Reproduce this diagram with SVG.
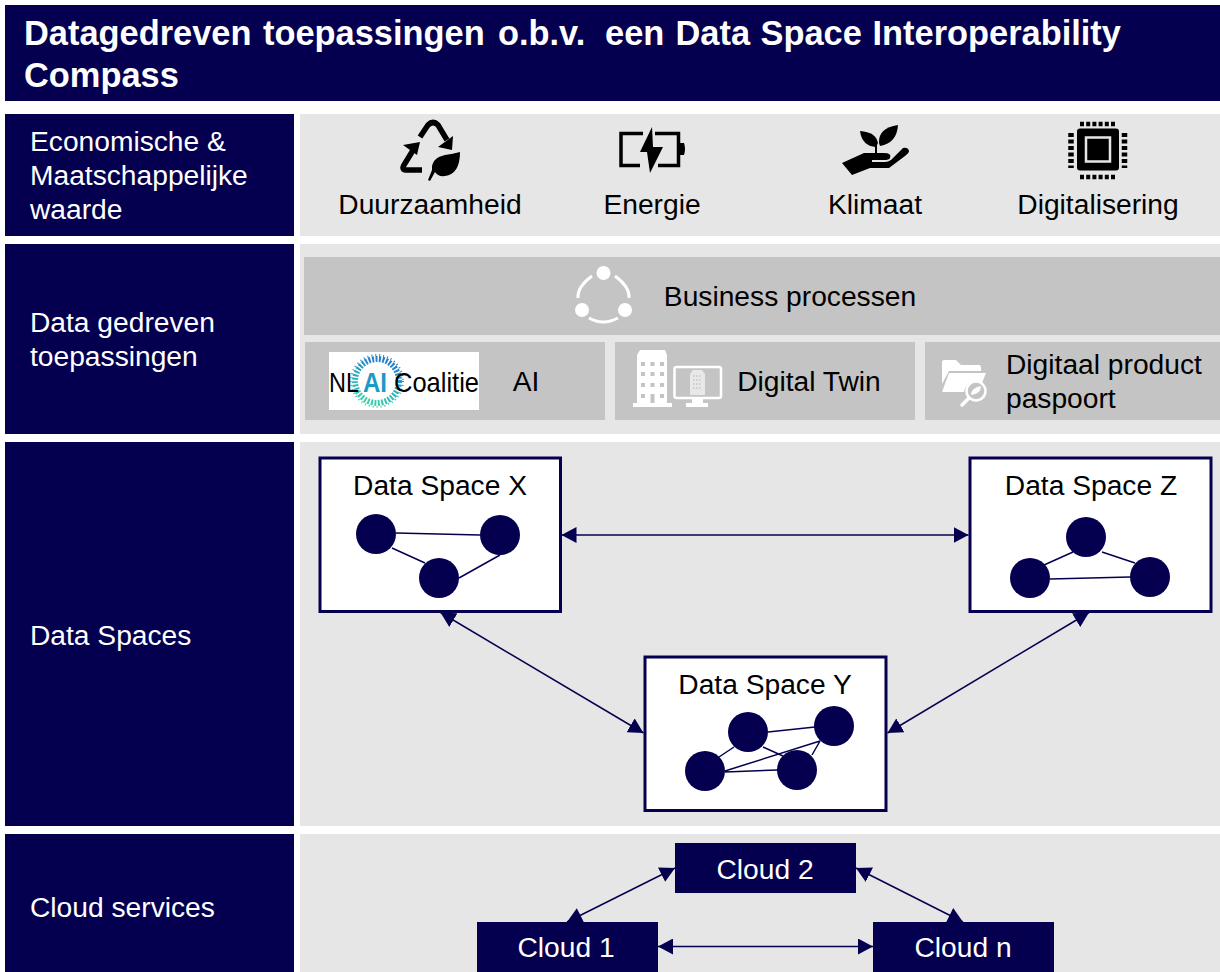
<svg xmlns="http://www.w3.org/2000/svg" width="1220" height="972" viewBox="0 0 1220 972">
<style>
text{font-family:"Liberation Sans",Arial,sans-serif;font-size:28.2px;fill:#000}
.w{fill:#fff}
.t{font-size:34.4px;font-weight:700;white-space:pre}
.navy{fill:#04004f}
.bg{fill:#e6e6e6}
.in{fill:#c4c4c4}
.box{fill:#fff;stroke:#04004f;stroke-width:3}
.c{stroke:#04004f;stroke-width:1.500;fill:none}
.a{stroke:#04004f;stroke-width:1.500;fill:none;marker-start:url(#ah);marker-end:url(#ah)}
.k{fill:#000}
.ks{stroke:#000;fill:none}
.wi{fill:#fff}
.ws{stroke:#fff;fill:none}
.g{fill:#c4c4c4}
.logo{font-size:28px}
</style>
<defs>
<marker id="ah" viewBox="0 0 15 16" refX="15" refY="8" markerWidth="15" markerHeight="16" markerUnits="userSpaceOnUse" orient="auto-start-reverse"><path d="M0 0L15 8L0 16Z" fill="#04004f"/></marker>
<linearGradient id="ring" x1="0.700" y1="0" x2="0.300" y2="1"><stop offset="0" stop-color="#2277cc"/><stop offset="0.500" stop-color="#2aa5c0"/><stop offset="1" stop-color="#3fd0a8"/></linearGradient>
</defs>
<rect width="1220" height="972" fill="#fff"/>
<g id="title"><rect class="navy" x="5" y="5" width="1215" height="96"/>
<text class="w t" y="45"><tspan x="24">Datagedreven </tspan><tspan x="263">toepassingen </tspan><tspan x="498">o.b.v.  </tspan><tspan x="605">een </tspan><tspan x="675.500">Data </tspan><tspan x="760.500">Space </tspan><tspan x="872.500">Interoperability</tspan></text>
<text class="w t" x="24" y="87">Compass</text></g>
<g id="row-waarde"><rect class="navy" x="5" y="114" width="289" height="122"/><rect class="bg" x="300" y="114" width="920" height="122"/>
<text class="w" x="30" y="151">Economische &amp;</text><text class="w" x="30" y="185">Maatschappelijke</text><text class="w" x="30" y="219">waarde</text></g>
<g id="row-toepassingen"><rect class="navy" x="5" y="244" width="289" height="190"/><rect class="bg" x="300" y="244" width="920" height="190"/>
<text class="w" x="30" y="332">Data gedreven</text><text class="w" x="30" y="366">toepassingen</text></g>
<g id="row-dataspaces"><rect class="navy" x="5" y="442" width="289" height="384"/><rect class="bg" x="300" y="442" width="920" height="384"/>
<text class="w" x="30" y="645">Data Spaces</text></g>
<g id="row-cloud"><rect class="navy" x="5" y="834" width="289" height="138"/><rect class="bg" x="300" y="834" width="920" height="138"/>
<text class="w" x="30" y="917">Cloud services</text></g>

<g id="duurzaamheid">
<path class="ks" stroke-width="5.500" d="M420 137L428 125Q433 120 438 125L447 140"/>
<path class="k" d="M438 147L453 136L452 150Z"/>
<path class="ks" stroke-width="5.500" d="M415 147L404 165Q401 170 407 170H422"/>
<path class="k" d="M403 145L420 142L417 155Z"/>
<path class="k" d="M460 152Q460 174 445 176Q438 177 435 172L430 181L428 180L432 170Q431 158 445 155Q453 154 460 152Z"/>
<text x="430" y="214" text-anchor="middle">Duurzaamheid</text></g>
<g id="energie">
<path class="ks" stroke-width="3.500" d="M643 133.500H621V165.500H640M655 133.500H678.500V165.500H658"/>
<path class="k" d="M680 143H684Q686 149 684 155H680Z"/>
<path class="k" d="M652 127L640 152H647L650 173L663 147H653Z"/>
<text x="652" y="214" text-anchor="middle">Energie</text></g>
<g id="klimaat">
<path class="k" d="M842 163L864 153H884Q892 153 890 158Q889 160 884 160H872V162H885Q888 162 891 160L903 148Q908 147 909 151Q909 153 905 156L889 168H870L852 175Z"/>
<path class="k" d="M876 147Q862 146 860 131Q876 132 878 143Z"/>
<path class="k" d="M879 143Q878 128 898 125Q897 143 880 146Z"/>
<path class="ks" stroke-width="2" d="M876 142L876 153"/>
<text x="875" y="214" text-anchor="middle">Klimaat</text></g>
<g id="digitalisering">
<rect class="k" x="1077" y="128.500" width="42" height="42" rx="3"/>
<rect x="1086" y="137.500" width="24" height="24" fill="none" stroke="#e6e6e6" stroke-width="2.500"/>
<path d="M1080 124H1115M1080 177H1115" stroke="#000" stroke-width="4.500" stroke-dasharray="4 2.200" fill="none"/>
<path d="M1071 133V168M1124.500 133V168" stroke="#000" stroke-width="5.500" stroke-dasharray="4 2.500" fill="none"/>
<text x="1098" y="214" text-anchor="middle">Digitalisering</text></g>

<g id="business"><rect class="in" x="304" y="257" width="916" height="78"/>
<circle class="wi" cx="603.500" cy="273" r="7"/><circle class="wi" cx="582" cy="310" r="7"/><circle class="wi" cx="625" cy="310" r="7"/>
<path class="ws" stroke-width="3" d="M592 276Q577 287 578 298M615 276Q630 287 629 298M589 318Q603 326 618 318"/>
<text x="790" y="306" text-anchor="middle">Business processen</text></g>
<g id="ai"><rect class="in" x="305" y="342" width="300" height="78"/>
<rect class="wi" x="329" y="352" width="150" height="58"/>
<circle cx="377" cy="381" r="22" fill="none" stroke="url(#ring)" stroke-width="6" stroke-dasharray="2 1.500"/>
<circle cx="377" cy="381" r="26" fill="none" stroke="url(#ring)" stroke-width="2" stroke-dasharray="1 3"/>
<text class="logo" x="329" y="392" textLength="30" lengthAdjust="spacingAndGlyphs">NL</text>
<text class="logo" x="363" y="392" style="font-weight:700;fill:#1b9ac4" textLength="24" lengthAdjust="spacingAndGlyphs">AI</text>
<text class="logo" x="394" y="392" textLength="85" lengthAdjust="spacingAndGlyphs">Coalitie</text>
<text x="526" y="391" text-anchor="middle">AI</text></g>
<g id="digital-twin"><rect class="in" x="615" y="342" width="300" height="78"/>
<path class="wi" d="M637 355L640 350H665L667 355V403H672V407H633V403H637Z"/>
<g class="g"><rect x="641" y="362" width="4" height="4"/><rect x="650.500" y="362" width="4" height="4"/><rect x="660" y="362" width="4" height="4"/><rect x="641" y="372" width="4" height="4"/><rect x="650.500" y="372" width="4" height="4"/><rect x="660" y="372" width="4" height="4"/><rect x="641" y="383" width="4" height="4"/><rect x="650.500" y="383" width="4" height="4"/><rect x="660" y="383" width="4" height="4"/><rect x="641" y="394" width="4" height="4"/><rect x="650.500" y="394" width="4" height="9"/><rect x="660" y="394" width="4" height="4"/></g>
<rect x="674.500" y="367" width="46.500" height="31" rx="2" fill="none" stroke="#fff" stroke-width="2.500"/>
<path d="M690 395V374L693 370H702L705 374V395Z" fill="#e8e8e8"/>
<path d="M693 376H702M693 380H702M693 384H702M693 388H702" stroke="#c4c4c4" stroke-width="1.500" stroke-dasharray="1.500 1.500"/>
<path class="wi" d="M692 399H703V403H708V407H686V403H692Z"/>
<text x="809" y="391" text-anchor="middle">Digital Twin</text></g>
<g id="paspoort"><rect class="in" x="925" y="342" width="295" height="78"/>
<path class="wi" d="M942 384V362Q942 360 944 360H956L961 365H979Q981 365 981 367V371H949Z"/>
<path class="wi" d="M949 373H986L982 383A12 12 0 0 0 964 392H942Z"/>
<circle cx="976" cy="391" r="9.500" fill="none" stroke="#fff" stroke-width="2.500"/>
<path class="ws" stroke-width="3.500" stroke-linecap="round" d="M969 398L962 405"/>
<path class="wi" d="M971 395Q971 388 981 386Q981 394 971 395Z"/>
<text x="1006" y="374">Digitaal product</text><text x="1006" y="408">paspoort</text></g>

<g id="connectors">
<path class="a" d="M561.500 535H968.500"/>
<path class="a" d="M440.500 612.500L643.500 733"/>
<path class="a" d="M1089 612.500L887.500 733"/>
<path class="a" d="M567 922L675 868"/>
<path class="a" d="M856 868L963 922"/>
<path class="a" d="M658 946.500H873"/>
</g>

<g id="data-space-x"><rect class="box" x="320" y="458" width="240.500" height="153.500"/>
<text x="440" y="495" text-anchor="middle">Data Space X</text>
<path class="c" d="M396 533L480 535M392 548L425 563M459 578L500 555"/>
<circle class="navy" cx="376" cy="534" r="20"/><circle class="navy" cx="500" cy="535" r="20"/><circle class="navy" cx="439" cy="578" r="20"/></g>
<g id="data-space-z"><rect class="box" x="970" y="458" width="241" height="153.500"/>
<text x="1091" y="495" text-anchor="middle">Data Space Z</text>
<path class="c" d="M1044 565L1073 552M1102 552L1135 563M1050 579L1130 577"/>
<circle class="navy" cx="1086" cy="537" r="20"/><circle class="navy" cx="1150" cy="577" r="20"/><circle class="navy" cx="1030" cy="578" r="20"/></g>
<g id="data-space-y"><rect class="box" x="645" y="657" width="241" height="153.500"/>
<text x="765" y="694" text-anchor="middle">Data Space Y</text>
<path class="c" d="M719 757L734 747M768 732L815 727M763 747L783 756M725 772L778 770M725 771L820 741M812 755L820 741"/>
<circle class="navy" cx="748" cy="732" r="20"/><circle class="navy" cx="834" cy="726" r="20"/><circle class="navy" cx="797" cy="770" r="20"/><circle class="navy" cx="705" cy="771" r="20"/></g>
<g id="cloud-2"><rect class="navy" x="675" y="843" width="181" height="50"/><text class="w" x="765" y="879" text-anchor="middle">Cloud 2</text></g>
<g id="cloud-1"><rect class="navy" x="477" y="922" width="181" height="50"/><text class="w" x="566" y="957" text-anchor="middle">Cloud 1</text></g>
<g id="cloud-n"><rect class="navy" x="873" y="922" width="181" height="50"/><text class="w" x="963" y="957" text-anchor="middle">Cloud n</text></g>
</svg>
